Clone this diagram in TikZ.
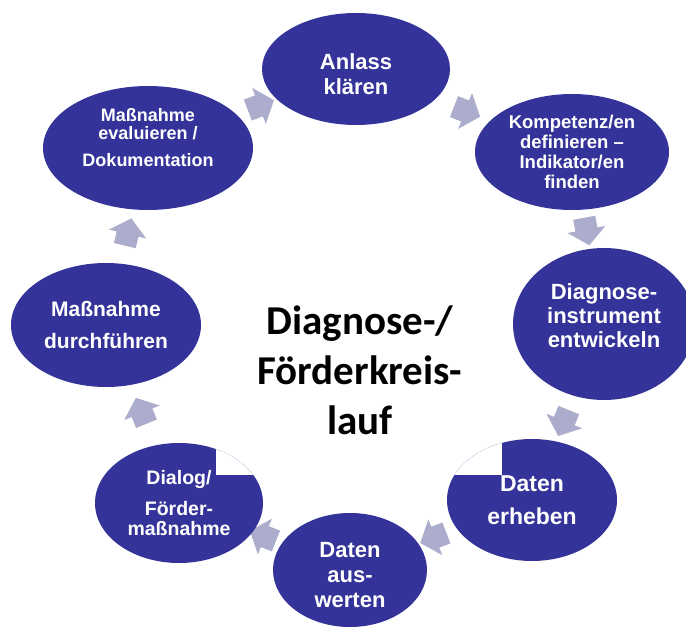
\documentclass[tikz,border=0pt]{standalone}
\usepackage{fontspec}
\setmainfont{Liberation Sans}
\newfontfamily\calibfont{Carlito}
\usetikzlibrary{shapes.geometric,shapes.arrows}
\definecolor{zykblau}{RGB}{51,51,153}
\definecolor{pfeilgrau}{RGB}{172,172,204}
\pgfdeclarelayer{hinten}
\pgfsetlayers{hinten,main}
\begin{document}
\begin{tikzpicture}[x=1pt,y=-1pt]
    \tikzstyle{phase}=[ellipse, fill=zykblau, text=white, inner sep=0pt, align=center];
    \tikzstyle{pfeil}=[single arrow, fill=pfeilgrau, minimum height=28pt, inner xsep=0pt, inner ysep=11pt, single arrow head extend=8pt, single arrow tip angle=100, sloped, allow upside down];
    \useasboundingbox (0,0) rectangle (686,628);
    \clip (0,0) rectangle (686,628);
    \node[phase, minimum width=188pt, minimum height=112pt, font=\bfseries\fontsize{22}{25}\selectfont] (anlass) at (356,69) {\mbox{}\\[1pt]Anlass\\klären};
    \node[phase, minimum width=194pt, minimum height=116pt, font=\bfseries\fontsize{18.5}{20}\selectfont] (kompetenz) at (572,152) {Kompetenz/en\\definieren --\\Indikator/en\\finden};
    \node[phase, minimum width=182pt, minimum height=152pt, font=\bfseries\fontsize{22}{24}\selectfont] (instrument) at (604,324) {Diagnose-\\instrument\\entwickeln\\[-8pt]\mbox{}};
    \node[phase, minimum width=170pt, minimum height=122pt, font=\bfseries\fontsize{23}{33}\selectfont,
        path picture={\fill[white] (path picture bounding box.north west) rectangle ++(55,36);}] (erheben) at (532,500) {Daten\\erheben};
    \node[phase, minimum width=154pt, minimum height=114pt, font=\bfseries\fontsize{22}{25}\selectfont] (auswerten) at (350,570) {\mbox{}\\[1pt]Daten\\aus-\\werten};
    \node[phase, minimum width=168pt, minimum height=120pt, font=\bfseries\fontsize{19.5}{20}\selectfont,
        path picture={\fill[white] (path picture bounding box.north east) rectangle ++(-47,32);}] (dialog) at (179,503) {Dialog/\\[11pt]Förder-\\maßnahme};
    \node[phase, minimum width=190pt, minimum height=124pt, font=\bfseries\fontsize{21}{32}\selectfont] (durchfuehren) at (106,325) {Maßnahme\\durchführen};
    \node[phase, minimum width=210pt, minimum height=124pt, font=\bfseries\fontsize{18}{18}\selectfont] (evaluieren) at (148,148) {Maßnahme\\evaluieren /\\[9pt]Dokumentation\\[4pt]\mbox{}};
    \node[font=\calibfont\bfseries\fontsize{41}{50}\selectfont, align=center] (titel) at (360,370) {Diagnose-/\\Förderkreis-\\lauf};
    \begin{pgfonlayer}{hinten}
    \path (anlass) -- node[pfeil, pos=0.5] (p1) {} (kompetenz);
    \path (kompetenz) -- node[pfeil, pos=0.44] (p2) {} (instrument);
    \path (instrument) -- node[pfeil, pos=0.5] (p3) {} (erheben);
    \path (erheben) -- node[pfeil, pos=0.5] (p4) {} (auswerten);
    \path (auswerten) -- node[pfeil, pos=0.5] (p5) {} (dialog);
    \path (dialog) -- node[pfeil, pos=0.5] (p6) {} (durchfuehren);
    \path (durchfuehren) -- node[pfeil, pos=0.5] (p7) {} (evaluieren);
    \path (evaluieren) -- node[pfeil, pos=0.5] (p8) {} (anlass);
    \end{pgfonlayer}
\end{tikzpicture}
\end{document}
